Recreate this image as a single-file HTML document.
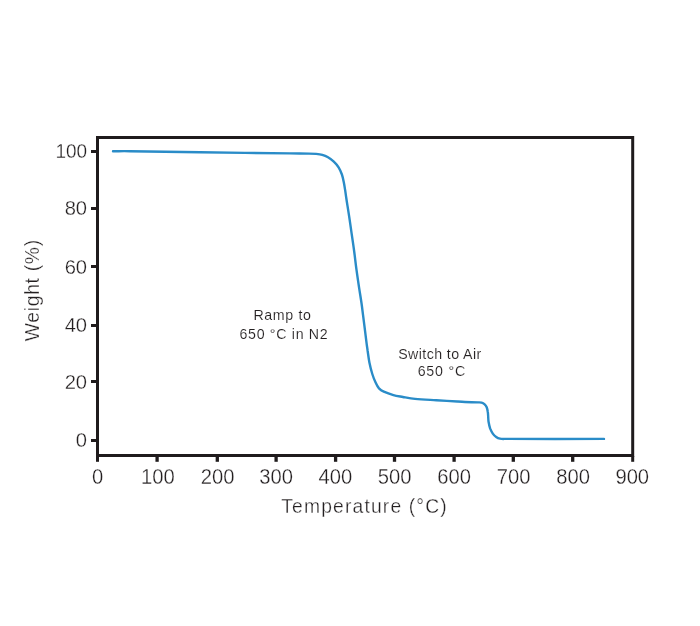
<!DOCTYPE html>
<html lang="en">
<head>
<meta charset="utf-8">
<title>TGA Weight vs Temperature</title>
<style>
  html, body { margin: 0; padding: 0; background: #ffffff; }
  body { width: 700px; height: 626px; overflow: hidden; }
  svg { display: block; }
  text { font-family: "Liberation Sans", sans-serif; fill: #231f20; stroke: #ffffff; stroke-width: 0.3px; }
  .tick { font-size: 21.4px; }
  .axis { font-size: 19.3px; }
  .note { font-size: 14.2px; stroke-width: 0.12px; }
</style>
</head>
<body>
<svg width="700" height="626" viewBox="0 0 700 626">
  <rect x="0" y="0" width="700" height="626" fill="#ffffff"/>

  <!-- plot frame -->
  <rect x="97.5" y="137.5" width="535.2" height="318" fill="none" stroke="#1f1b1c" stroke-width="3"/>

  <!-- y ticks -->
  <g stroke="#1f1b1c" stroke-width="3" fill="none">
    <line x1="91" y1="151.5" x2="97" y2="151.5"/>
    <line x1="91" y1="208.5" x2="97" y2="208.5"/>
    <line x1="91" y1="266.5" x2="97" y2="266.5"/>
    <line x1="91" y1="325.5" x2="97" y2="325.5"/>
    <line x1="91" y1="381.5" x2="97" y2="381.5"/>
    <line x1="91" y1="440.5" x2="97" y2="440.5"/>
  </g>
  <!-- x ticks -->
  <g stroke="#1f1b1c" stroke-width="3" fill="none">
    <line x1="97.5" y1="456" x2="97.5" y2="461.8"/>
    <line x1="157.1" y1="456" x2="157.1" y2="461.8" stroke-width="3.3"/>
    <line x1="217.3" y1="456" x2="217.3" y2="461.8" stroke-width="3.3"/>
    <line x1="276.1" y1="456" x2="276.1" y2="461.8" stroke-width="3.3"/>
    <line x1="335.6" y1="456" x2="335.6" y2="461.8" stroke-width="3.3"/>
    <line x1="394.5" y1="456" x2="394.5" y2="461.8" stroke-width="3.3"/>
    <line x1="454.1" y1="456" x2="454.1" y2="461.8" stroke-width="3.3"/>
    <line x1="513.3" y1="456" x2="513.3" y2="461.8" stroke-width="3.3"/>
    <line x1="572.7" y1="456" x2="572.7" y2="461.8" stroke-width="3.3"/>
    <line x1="632.7" y1="456" x2="632.7" y2="461.8"/>
  </g>

  <!-- y tick labels -->
  <g class="tick" text-anchor="end">
    <text style="font-size:20.2px" transform="translate(87.1 157.9) scale(0.94 1)">100</text>
    <text style="font-size:20.2px" x="87.1" y="215.3">80</text>
    <text style="font-size:20.2px" x="87.1" y="273.6">60</text>
    <text style="font-size:20.2px" x="87.1" y="331.8">40</text>
    <text style="font-size:20.2px" x="87.1" y="389.0">20</text>
    <text style="font-size:20.2px" x="87.1" y="446.8">0</text>
  </g>
  <!-- x tick labels -->
  <g class="tick" text-anchor="middle">
    <text transform="translate(97.60 483.9) scale(0.945 1)">0</text>
    <text transform="translate(157.80 483.9) scale(0.945 1)">100</text>
    <text transform="translate(217.60 483.9) scale(0.945 1)">200</text>
    <text transform="translate(276.10 483.9) scale(0.945 1)">300</text>
    <text transform="translate(335.40 483.9) scale(0.945 1)">400</text>
    <text transform="translate(394.55 483.9) scale(0.945 1)">500</text>
    <text transform="translate(454.05 483.9) scale(0.945 1)">600</text>
    <text transform="translate(513.55 483.9) scale(0.945 1)">700</text>
    <text transform="translate(573.05 483.9) scale(0.945 1)">800</text>
    <text transform="translate(632.25 483.9) scale(0.945 1)">900</text>
  </g>

  <!-- axis titles -->
  <text class="axis" x="364" y="513" text-anchor="middle" textLength="165.5" lengthAdjust="spacing">Temperature (°C)</text>
  <text class="axis" transform="translate(38.6 290.6) rotate(-90)" text-anchor="middle" textLength="101.5" lengthAdjust="spacing">Weight (%)</text>

  <!-- annotations -->
  <text class="note" x="282.2" y="320.4" text-anchor="middle" textLength="57.6" lengthAdjust="spacing">Ramp to</text>
  <text class="note" x="283.6" y="338.6" text-anchor="middle" textLength="88.2" lengthAdjust="spacing">650 °C in N2</text>
  <text class="note" x="439.7" y="359.4" text-anchor="middle" textLength="83" lengthAdjust="spacing">Switch to Air</text>
  <text class="note" x="441.5" y="376.3" text-anchor="middle" textLength="47.7" lengthAdjust="spacing">650 °C</text>

  <!-- data curve -->
  <path fill="none" stroke="#2a8cc8" stroke-width="2.4" stroke-linecap="round" stroke-linejoin="round"
    d="M113.0,151.2 C118.7,151.2 124.3,151.1 130.0,151.2 C153.3,151.5 176.7,152.0 200.0,152.3 C230.0,152.7 260.0,153.0 290.0,153.4 C296.3,153.5 302.7,153.5 309.0,153.6 C311.3,153.6 313.7,153.7 316.0,153.9 C318.1,154.1 320.3,154.3 322.3,154.9 C324.3,155.5 326.2,156.3 328.0,157.3 C330.1,158.5 332.0,159.9 333.8,161.6 C335.6,163.3 337.3,165.2 338.6,167.3 C340.0,169.5 341.0,172.0 341.9,174.5 C342.8,177.0 343.3,179.6 343.8,182.2 C344.3,184.7 344.7,187.3 345.1,189.9 C345.5,192.4 345.8,195.0 346.2,197.5 C347.0,203.1 348.0,208.6 348.8,214.2 C349.8,220.6 350.7,227.0 351.6,233.4 C352.5,239.4 353.4,245.5 354.2,251.5 C355.0,257.4 355.6,263.3 356.4,269.2 C357.3,275.6 358.2,282.0 359.2,288.4 C360.1,294.3 361.1,300.1 361.9,306.0 C362.7,312.1 363.4,318.1 364.2,324.2 C365.0,330.6 365.8,337.0 366.6,343.4 C366.9,345.8 367.3,348.1 367.6,350.5 C368.2,354.5 368.6,358.5 369.4,362.5 C370.2,366.4 371.1,370.2 372.3,374.0 C373.2,376.9 374.3,379.8 375.6,382.6 C376.5,384.6 377.5,386.7 379.0,388.4 C380.3,389.8 382.0,390.9 383.8,391.7 C386.9,393.1 390.1,394.2 393.4,395.1 C396.5,396.0 399.7,396.4 402.9,397.0 C406.9,397.7 410.9,398.5 415.0,398.9 C422.1,399.6 429.2,399.8 436.3,400.2 C443.3,400.6 450.3,401.1 457.3,401.5 C459.9,401.7 462.4,401.9 465.0,402.0 C469.3,402.2 473.7,402.2 478.0,402.4 C479.2,402.4 480.4,402.3 481.6,402.6 C482.6,402.9 483.6,403.4 484.4,404.1 C485.4,405.0 486.2,406.0 486.7,407.2 C487.3,408.7 487.6,410.4 487.8,412.0 C488.1,413.7 488.1,415.3 488.2,417.0 C488.3,418.7 488.3,420.4 488.6,422.0 C489.0,424.2 489.4,426.3 490.1,428.4 C490.8,430.2 491.7,432.0 492.8,433.6 C493.7,434.9 494.9,436.1 496.2,437.0 C497.3,437.8 498.6,438.4 500.0,438.7 C502.0,439.1 504.0,438.9 506.0,438.9 C538.7,439.0 571.3,438.9 604.0,438.9"/>
</svg>
</body>
</html>
